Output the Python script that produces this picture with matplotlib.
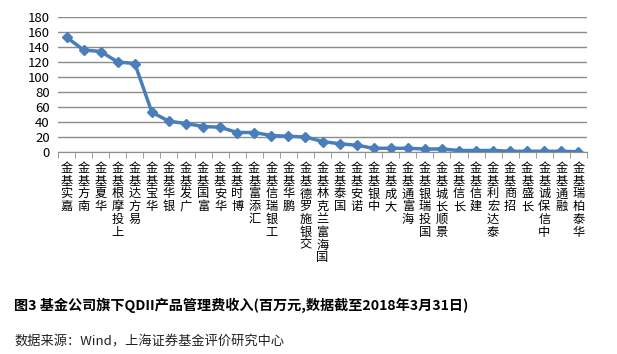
import numpy as np
import matplotlib
matplotlib.use('Agg')
import matplotlib.pyplot as plt

plt.rcParams['font.family'] = ['Noto Sans CJK SC', 'DejaVu Sans']

companies = ['嘉实基金', '南方基金', '华夏基金', '上投摩根基金', '易方达基金',
             '华宝基金', '银华基金', '广发基金', '富国基金', '华安基金',
             '博时基金', '汇添富基金', '工银瑞信基金', '鹏华基金', '交银施罗德基金',
             '国海富兰克林基金', '国泰基金', '诺安基金', '中银基金', '大成基金',
             '海富通基金', '国投瑞银基金', '景顺长城基金', '长信基金', '建信基金',
             '泰达宏利基金', '招商基金', '长盛基金', '中信保诚基金', '融通基金',
             '华泰柏瑞基金']
fees = [153, 136, 134, 120, 118, 53, 41, 38, 34, 33,
        26, 26, 22, 21, 20, 14, 11, 9, 5, 5,
        5, 4, 4, 2, 2, 2, 1, 1, 1, 1, 0.3]
y_ticks = [0, 20, 40, 60, 80, 100, 120, 140, 160, 180]

fig = plt.figure(figsize=(6.17, 3.54), dpi=100)
ax = fig.add_axes([58 / 617, 1 - 152 / 354, 529 / 617, 135 / 354])

x = np.arange(len(companies))
ax.plot(x, fees, color='#4a7ebb', linewidth=2.5, marker='D', markersize=5,
        markerfacecolor='#4a7ebb', markeredgecolor='#4a7ebb')

ax.set_xlim(-0.5, len(companies) - 0.5)
ax.set_ylim(0, 180)
ax.set_yticks(y_ticks)
ax.yaxis.grid(True, color='#8c8c8c', linewidth=1)
ax.set_axisbelow(True)
for side in ['top', 'right', 'left']:
    ax.spines[side].set_visible(False)
ax.spines['bottom'].set_color('#8c8c8c')
ax.tick_params(axis='y', length=0, labelsize=9.5, pad=6)
ax.set_xticks([])
ax.set_xticks(np.arange(len(companies) + 1) - 0.5, minor=True)
ax.tick_params(axis='x', which='minor', length=4, color='#8c8c8c', direction='out')

# labels are stacked upright, last character on top
for i, name in enumerate(companies):
    ax.text(i, -13, '\n'.join(name[::-1]), ha='center', va='top', fontsize=8.8,
            linespacing=0.98, clip_on=False)

fig.text(14 / 617, 1 - 305 / 354,
         '图3 基金公司旗下QDII产品管理费收入(百万元,数据截至2018年3月31日)',
         fontsize=10.2, fontweight='bold', va='center', ha='left')
fig.text(14 / 617, 1 - 342 / 354,
         '数据来源：Wind，上海证券基金评价研究中心',
         fontsize=9.5, style='italic', color='#222222', va='center', ha='left')

fig.savefig('out.png', dpi=100)
